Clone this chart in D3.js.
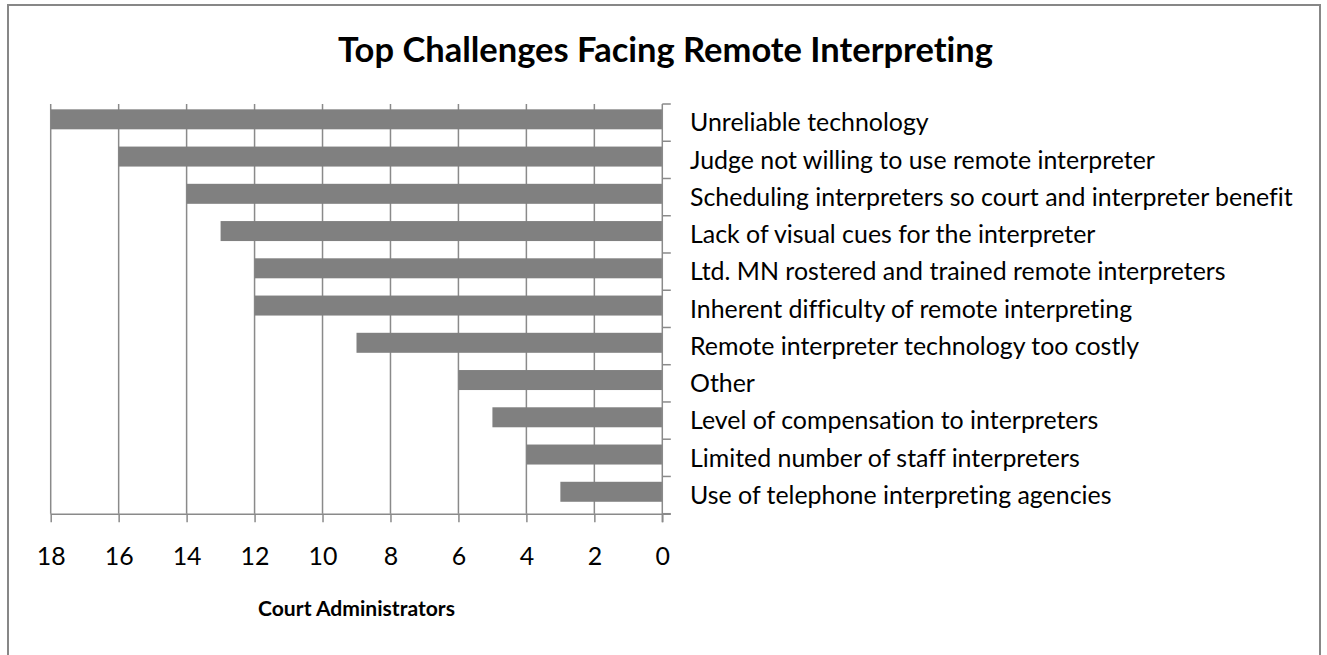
<!DOCTYPE html>
<html>
<head>
<meta charset="utf-8">
<script src="https://cdn.jsdelivr.net/npm/d3@7/dist/d3.min.js"></script>
<style>
  html, body { margin: 0; padding: 0; background: #fff; }
  svg { display: block; }
  text { font-family: Lato, "Open Sans", "Liberation Sans", sans-serif; fill: #000;
         font-variant-ligatures: none; font-feature-settings: "liga" 0; }
</style>
</head>
<body>
<svg id="chart" width="1327" height="655"></svg>
<script>
// Survey answers: number of court administrators naming each challenge
const categories = [
  "Unreliable technology",
  "Judge not willing to use remote interpreter",
  "Scheduling interpreters so court and interpreter benefit",
  "Lack of visual cues for the interpreter",
  "Ltd. MN rostered and trained remote interpreters",
  "Inherent difficulty of remote interpreting",
  "Remote interpreter technology too costly",
  "Other",
  "Level of compensation to interpreters",
  "Limited number of staff interpreters",
  "Use of telephone interpreting agencies"
];
const counts = [18, 16, 14, 13, 12, 12, 9, 6, 5, 4, 3];
const tickValues = [0, 2, 4, 6, 8, 10, 12, 14, 16, 18];
const titleText = "Top Challenges Facing Remote Interpreting";
const axisTitleText = "Court Administrators";

const svg = d3.select("#chart");
const gridColor = "#8a8a8a";
const barColor = "#808080";

// Plot area
const plot = { left: 50.7, right: 662.3, top: 104, bottom: 513.7 };

const x = d3.scaleLinear().domain([0, 18]).range([plot.right, plot.left]);
const y = d3.scaleBand().domain(categories).range([plot.top, plot.bottom]).padding(0);
const barH = 20;
const barShift = -3.3;

// Fit a text element's font size so it spans a given width
function fitWidth(sel, target) {
  const node = sel.node();
  const base = parseFloat(sel.attr("font-size"));
  const w = node.getComputedTextLength();
  sel.attr("font-size", (base * target / w).toFixed(2));
}

// Outer chart frame
svg.append("rect")
  .attr("x", 8).attr("y", 5)
  .attr("width", 1312).attr("height", 700)
  .attr("fill", "none")
  .attr("stroke", "#878787")
  .attr("stroke-width", 2);

// Title
const title = svg.append("text")
  .attr("x", 665.5).attr("y", 62)
  .attr("text-anchor", "middle")
  .attr("font-size", 32)
  .attr("font-weight", "bold")
  .text(titleText);
fitWidth(title, 655);

// Vertical gridlines
svg.append("g")
  .selectAll("line")
  .data(tickValues.filter(d => d !== 0))
  .join("line")
  .attr("x1", d => x(d)).attr("x2", d => x(d))
  .attr("y1", plot.top).attr("y2", plot.bottom)
  .attr("stroke", gridColor).attr("stroke-width", 1.5);

// Bars
svg.append("g")
  .selectAll("rect")
  .data(categories)
  .join("rect")
  .attr("x", (d, i) => x(counts[i]))
  .attr("width", (d, i) => x(0) - x(counts[i]))
  .attr("y", d => y(d) + (y.bandwidth() - barH) / 2 + barShift)
  .attr("height", barH)
  .attr("fill", barColor);

// Bottom value axis (reversed: 18 on the left, 0 on the right)
const xAxis = d3.axisBottom(x)
  .tickValues(tickValues)
  .tickSize(8.5)
  .tickFormat(d3.format("d"))
  .tickPadding(0);
const gx = svg.append("g")
  .attr("transform", `translate(0,${plot.bottom})`)
  .call(xAxis);
gx.select(".domain")
  .attr("d", `M${plot.left},0.5H${plot.right + 8.5}`)
  .attr("stroke", gridColor).attr("stroke-width", 1.5);
gx.selectAll(".tick line").attr("stroke", gridColor).attr("stroke-width", 1.5);
gx.selectAll(".tick text")
  .attr("y", 43)
  .attr("dy", "0.35em")
  .attr("font-size", 20)
  .attr("font-family", null)
  .attr("fill", "#000");

// Right category axis with ticks between categories
const boundaries = categories.map(c => y(c)).concat([plot.bottom]);
svg.append("line")
  .attr("x1", plot.right).attr("x2", plot.right)
  .attr("y1", plot.top).attr("y2", plot.bottom + 8.5)
  .attr("stroke", gridColor).attr("stroke-width", 1.5);
svg.append("g")
  .selectAll("line")
  .data(boundaries)
  .join("line")
  .attr("x1", plot.right).attr("x2", plot.right + 8.5)
  .attr("y1", d => d).attr("y2", d => d)
  .attr("stroke", gridColor).attr("stroke-width", 1.5);

// Category labels
const labels = svg.append("g")
  .selectAll("text")
  .data(categories)
  .join("text")
  .attr("x", 690)
  .attr("y", d => y(d) + y.bandwidth() / 2)
  .attr("dy", "0.35em")
  .attr("font-size", 20)
  .text(d => d);
// size all labels from the longest one
const longest = labels.filter(d => d === categories[2]);
fitWidth(longest, 603);
labels.attr("font-size", longest.attr("font-size"));
gx.selectAll(".tick text").attr("font-size", longest.attr("font-size"));

// Axis title
const axisTitle = svg.append("text")
  .attr("x", (plot.left + plot.right) / 2)
  .attr("y", 616)
  .attr("text-anchor", "middle")
  .attr("font-size", 20)
  .attr("font-weight", "bold")
  .text(axisTitleText);
fitWidth(axisTitle, 197);
</script>
</body>
</html>
